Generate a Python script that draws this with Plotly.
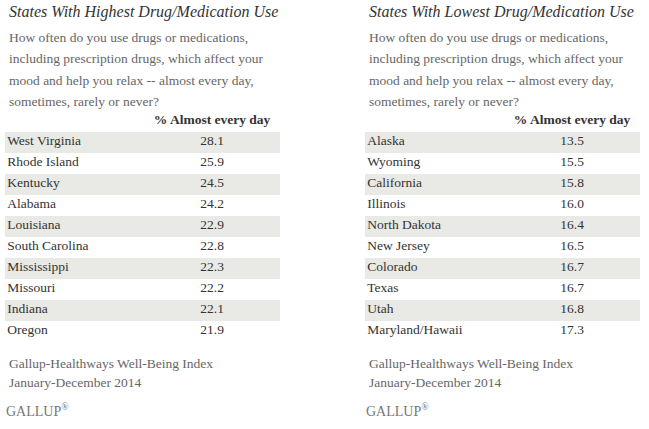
import plotly.graph_objects as go

W, H = 649, 429

title_left = "States With Highest Drug/Medication Use"
title_right = "States With Lowest Drug/Medication Use"
question_lines = [
    "How often do you use drugs or medications,",
    "including prescription drugs, which affect your",
    "mood and help you relax -- almost every day,",
    "sometimes, rarely or never?",
]
column_header = "% Almost every day"
source_lines = ["Gallup-Healthways Well-Being Index", "January-December 2014"]
brand = "GALLUP"

states_high = ["West Virginia", "Rhode Island", "Kentucky", "Alabama", "Louisiana",
               "South Carolina", "Mississippi", "Missouri", "Indiana", "Oregon"]
values_high = [28.1, 25.9, 24.5, 24.2, 22.9, 22.8, 22.3, 22.2, 22.1, 21.9]

states_low = ["Alaska", "Wyoming", "California", "Illinois", "North Dakota",
              "New Jersey", "Colorado", "Texas", "Utah", "Maryland/Hawaii"]
values_low = [13.5, 15.5, 15.8, 16.0, 16.4, 16.5, 16.7, 16.7, 16.8, 17.3]

SERIF = "Liberation Serif"
FS = 13.5
GREY_BAND = "#e9e9e5"
TEXT = "#333333"
SUB = "#666666"

fig = go.Figure()


def py(p):
    return 1 - p / H


def px(p):
    return p / W


panels = [
    (states_high, values_high, "x", "y"),
    (states_low, values_low, "x2", "y2"),
]

for states, values, xa, ya in panels:
    idx = list(range(len(states)))
    fig.add_trace(go.Bar(
        y=idx, x=[1] * len(idx), base=0, orientation="h",
        marker=dict(color=[GREY_BAND if i % 2 == 0 else "rgba(0,0,0,0)" for i in idx],
                    line=dict(width=0)),
        xaxis=xa, yaxis=ya, hoverinfo="skip", showlegend=False,
    ))
    fig.add_trace(go.Scatter(
        y=idx, x=[0.008] * len(idx), mode="text", text=states,
        textposition="middle right",
        textfont=dict(family=SERIF, size=FS, color=TEXT),
        xaxis=xa, yaxis=ya, hoverinfo="skip", showlegend=False,
    ))
    fig.add_trace(go.Scatter(
        y=idx, x=[0.753] * len(idx), mode="text",
        text=[f"{v:.1f}" for v in values],
        textposition="middle center",
        textfont=dict(family=SERIF, size=FS, color=TEXT),
        xaxis=xa, yaxis=ya, hoverinfo="skip", showlegend=False,
    ))
    fig.add_trace(go.Scatter(
        y=[-1], x=[0.753], mode="text", text=[f"<b>{column_header}</b>"],
        textposition="middle center",
        textfont=dict(family=SERIF, size=FS, color=TEXT),
        xaxis=xa, yaxis=ya, hoverinfo="skip", showlegend=False,
    ))

ydom = [py(341.5), py(110.5)]
axis_common = dict(showgrid=False, zeroline=False, showticklabels=False,
                   showline=False, ticks="", fixedrange=True)
fig.update_layout(
    width=W, height=H,
    margin=dict(l=0, r=0, t=0, b=0),
    paper_bgcolor="white", plot_bgcolor="rgba(0,0,0,0)",
    bargap=0,
    xaxis=dict(domain=[px(5), px(280)], range=[0, 1], **axis_common),
    yaxis=dict(domain=ydom, range=[9.5, -1.5], **axis_common),
    xaxis2=dict(domain=[px(365), px(640)], range=[0, 1], anchor="y2", **axis_common),
    yaxis2=dict(domain=ydom, range=[9.5, -1.5], anchor="x2", **axis_common),
)

annotations = []
for x0, title in [(7, title_left), (367, title_right)]:
    annotations.append(dict(
        x=px(x0), y=py(12), xref="paper", yref="paper", xanchor="left", yanchor="middle",
        text=f"<i>{title}</i>", showarrow=False,
        font=dict(family=SERIF, size=16, color=TEXT)))
    for k, line in enumerate(question_lines):
        annotations.append(dict(
            x=px(x0), y=py(37.5 + 21.3 * k), xref="paper", yref="paper",
            xanchor="left", yanchor="middle", text=line, showarrow=False,
            font=dict(family=SERIF, size=FS, color=SUB)))
    for k, line in enumerate(source_lines):
        annotations.append(dict(
            x=px(x0), y=py(363 + 19 * k), xref="paper", yref="paper",
            xanchor="left", yanchor="middle", text=line, showarrow=False,
            font=dict(family=SERIF, size=FS, color=SUB)))
    annotations.append(dict(
        x=px(x0 - 3), y=py(410), xref="paper", yref="paper",
        xanchor="left", yanchor="middle", text=f"{brand}<sup>®</sup>", showarrow=False,
        font=dict(family=SERIF, size=14, color="#777777")))

fig.update_layout(annotations=annotations)
fig.write_html("out.html", config={"displayModeBar": False},
               post_script="document.body.style.margin='0px';")
